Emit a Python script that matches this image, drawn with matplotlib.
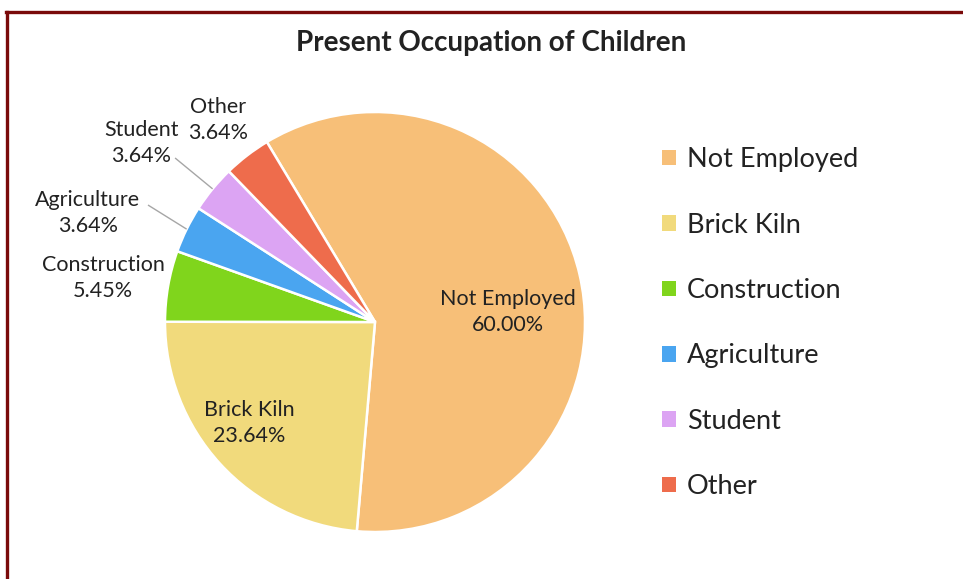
import matplotlib
matplotlib.use("Agg")
import matplotlib.pyplot as plt
from matplotlib.patches import Patch
import numpy as np

plt.rcParams['font.family'] = ['Lato', 'DejaVu Sans']

categories = ["Not Employed", "Brick Kiln", "Construction", "Agriculture", "Student", "Other"]
shares = [60.00, 23.64, 5.45, 3.64, 3.64, 3.64]
colors = ["#F7BF78", "#F1DA7C", "#80D51C", "#4AA5F0", "#DCA4F3", "#EE6C4C"]

W, H = 963, 579
fig = plt.figure(figsize=(W / 100, H / 100), dpi=100)

# pie geometry in pixels
cx, cy, r = 375, 322, 210
ax = fig.add_axes([(cx - r) / W, (H - cy - r) / H, 2 * r / W, 2 * r / H])
ax.set_aspect('equal')
ax.axis('off')

wedges, _ = ax.pie(shares, colors=colors, startangle=121, counterclock=False,
                   radius=1.0, wedgeprops=dict(edgecolor='white', linewidth=1.8))
ax.set_xlim(-1, 1)
ax.set_ylim(-1, 1)

# label placement (data units of the pie axes) and whether a leader line is drawn
label_pos = {
    "Not Employed": (0.633, 0.048, False),
    "Brick Kiln": (-0.60, -0.481, False),
    "Construction": (-1.295, 0.21, False),
    "Agriculture": (-1.367, 0.519, True),
    "Student": (-1.114, 0.852, True),
    "Other": (-0.748, 0.962, False),
}
leader_start = {
    "Agriculture": (-1.081, 0.557),
    "Student": (-0.952, 0.781),
}

for w, name, val in zip(wedges, categories, shares):
    x, y, lead = label_pos[name]
    ax.text(x, y, f"{name}\n{val:.2f}%", ha='center', va='center', fontsize=15.5,
            color='#222222', linespacing=1.38, clip_on=False)
    if lead:
        mid = np.deg2rad((w.theta1 + w.theta2) / 2)
        sx, sy = leader_start[name]
        ax.plot([sx, np.cos(mid)], [sy, np.sin(mid)], color='#A6A6A6', lw=1.0,
                clip_on=False, solid_capstyle='butt')

fig.text(491 / W, 1 - 43 / H, "Present Occupation of Children", ha='center', va='center',
         fontsize=20, fontweight='bold', color='#222222')

handles = [Patch(facecolor=c, edgecolor='none') for c in colors]
fig.legend(handles, categories, loc='upper left', bbox_to_anchor=(638 / W, 1 - 123 / H),
           frameon=False, fontsize=19.5, handlelength=0.5, handleheight=0.5,
           handletextpad=0.4, labelspacing=1.49, labelcolor='#222222')

# frame lines along the top and left edge
fig.add_artist(plt.Line2D([6 / W, 1], [1 - 12 / H, 1 - 12 / H], color='#7A0A0A', lw=2.4,
                          transform=fig.transFigure))
fig.add_artist(plt.Line2D([7 / W, 7 / W], [0, 1 - 12 / H], color='#7A0A0A', lw=2.4,
                          transform=fig.transFigure))

fig.savefig("out.png", dpi=100)
